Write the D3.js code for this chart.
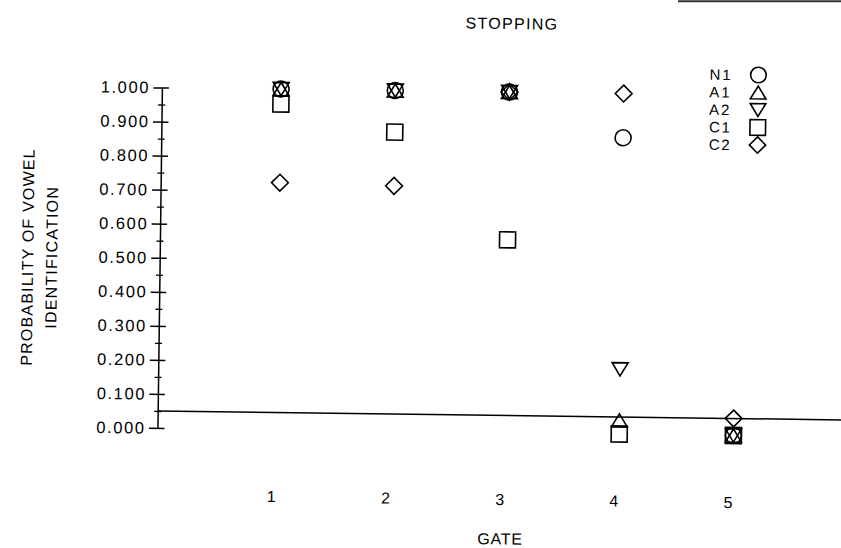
<!DOCTYPE html>
<html>
<head>
<meta charset="utf-8">
<script src="https://cdn.jsdelivr.net/npm/d3@7"></script>
<style>
  html, body { margin: 0; padding: 0; background: #fff; }
  svg { display: block; }
  text { font-family: "Liberation Sans", Arial, Helvetica, sans-serif; fill: #000; }
</style>
</head>
<body>
<svg id="chart" width="841" height="548"></svg>
<script>
// ---- data ----
const gates = [1, 2, 3, 4, 5];
const gateLabels = ["1", "2", "3", "4", "5"];
const seriesNames = ["N1", "A1", "A2", "C1", "C2"];
const seriesShapes = ["circle", "triangleUp", "triangleDown", "square", "diamond"];
const n1 = [1.0, 1.0, 1.0, 0.87, 0.0];
const a1 = [1.0, 1.0, 1.0, 0.04, 0.0];
const a2 = [1.0, 1.0, 1.0, 0.19, 0.0];
const c1 = [0.956, 0.878, 0.566, 0.0, 0.0];
const c2 = [0.725, 0.72, 1.0, 1.0, 0.05];
const yMajorTicks = [0, 0.1, 0.2, 0.3, 0.4, 0.5, 0.6, 0.7, 0.8, 0.9, 1.0];
const yMinorTicks = [0.05, 0.15, 0.25, 0.35, 0.45, 0.55, 0.65, 0.75, 0.85, 0.95];
const chanceLevel = 0.05;
const titleText = "STOPPING";
const xTitle = "GATE";
const yTitleLines = ["PROBABILITY OF VOWEL", "IDENTIFICATION"];

const seriesValues = [n1, a1, a2, c1, c2];

// ---- layout ----
const svg = d3.select("#chart");
// scanned original is slightly rotated
const g = svg.append("g").attr("transform", "rotate(0.75 420 274)");

const axisX = 159.5;
const y = d3.scaleLinear().domain([0, 1]).range([431.4, 90.9]);
const x = d3.scaleLinear().domain([1, 5]).range([278.7, 735.5]);

// marker shapes
function shapePath(type, r) {
  const p = d3.path();
  if (type === "circle") {
    p.moveTo(r, 0); p.arc(0, 0, r, 0, 2 * Math.PI); p.closePath();
  } else if (type === "square") {
    p.rect(-r, -r, 2 * r, 2 * r);
  } else if (type === "diamond") {
    const d = r * 1.05;
    p.moveTo(0, -d); p.lineTo(d, 0); p.lineTo(0, d); p.lineTo(-d, 0); p.closePath();
  } else if (type === "triangleUp") {
    const h = r * 0.82;
    p.moveTo(0, -h); p.lineTo(r, h); p.lineTo(-r, h); p.closePath();
  } else if (type === "triangleDown") {
    const h = r * 0.82;
    p.moveTo(-r, -h); p.lineTo(r, -h); p.lineTo(0, h); p.closePath();
  }
  return p.toString();
}
const R = 8;

// ---- y axis ----
const yAxis = d3.axisLeft(y)
  .tickValues(yMajorTicks)
  .tickFormat(d3.format(".3f"))
  .tickSizeInner(8.5)
  .tickSizeOuter(0)
  .tickPadding(5);
const ya = g.append("g").attr("transform", `translate(${axisX},0)`).call(yAxis);
ya.select(".domain").attr("stroke", "#000").attr("stroke-width", 1.5);
ya.selectAll(".tick line").attr("x1", 7).attr("stroke", "#000").attr("stroke-width", 1.5);
ya.selectAll(".tick text")
  .attr("font-size", 16.5)
  .attr("letter-spacing", "1.6px")
  .attr("dx", "1.6px")
  .attr("font-family", "Liberation Sans, Arial, sans-serif")
  .attr("fill", "#000");

const yMinor = d3.axisLeft(y)
  .tickValues(yMinorTicks)
  .tickFormat("")
  .tickSizeInner(3.5)
  .tickSizeOuter(0);
const ym = g.append("g").attr("transform", `translate(${axisX},0)`).call(yMinor);
ym.select(".domain").remove();
ym.selectAll(".tick line").attr("x1", 3.5).attr("stroke", "#000").attr("stroke-width", 1.3);

// ---- x axis labels (no line) ----
const xAxis = d3.axisBottom(x)
  .tickValues(gates)
  .tickFormat((d, i) => gateLabels[i])
  .tickSize(0)
  .tickPadding(0);
const xa = g.append("g").attr("transform", `translate(0,${y(0) + 67})`).call(xAxis);
xa.select(".domain").remove();
xa.selectAll(".tick text")
  .attr("font-size", 16)
  .attr("dx", "-5px")
  .attr("dy", "0.35em")
  .attr("font-family", "Liberation Sans, Arial, sans-serif")
  .attr("fill", "#000");

// ---- chance line ----
g.append("line")
  .attr("x1", axisX).attr("x2", 900)
  .attr("y1", y(chanceLevel)).attr("y2", y(chanceLevel))
  .attr("stroke", "#000").attr("stroke-width", 1.5);

// ---- points ----
seriesNames.forEach((name, si) => {
  g.append("g").attr("class", "series-" + name)
    .selectAll("path")
    .data(seriesValues[si].map((v, i) => ({ gate: gates[i], v })))
    .join("path")
    .attr("transform", d => `translate(${x(d.gate)},${y(d.v)})`)
    .attr("d", shapePath(seriesShapes[si], R))
    .attr("fill", "none")
    .attr("stroke", "#000")
    .attr("stroke-width", 1.6);
});

// ---- titles ----
g.append("text")
  .attr("x", 508.7).attr("y", 28)
  .attr("text-anchor", "middle")
  .attr("font-size", 16)
  .attr("letter-spacing", "1.3px")
  .text(titleText);

g.append("text")
  .attr("x", x(3) - 3.5).attr("y", y(0) + 112)
  .attr("text-anchor", "middle")
  .attr("font-size", 16)
  .attr("letter-spacing", "0.8px")
  .text(xTitle);

const yMid = (y(0) + y(1)) / 2 + 1;
yTitleLines.forEach((line, i) => {
  g.append("text")
    .attr("transform", `translate(${33 + i * 24},${yMid}) rotate(-90)`)
    .attr("text-anchor", "middle")
    .attr("font-size", 16)
    .attr("letter-spacing", "1.2px")
    .text(line);
});

// ---- legend ----
const legend = g.append("g").attr("transform", "translate(0,70.6)");
seriesNames.forEach((name, i) => {
  const row = legend.append("g").attr("transform", `translate(0,${i * 17.5})`);
  row.append("text")
    .attr("x", 707).attr("y", 5.5)
    .attr("font-size", 15)
    .attr("letter-spacing", "1.8px")
    .text(name);
  row.append("path")
    .attr("transform", "translate(755.8,0)")
    .attr("d", shapePath(seriesShapes[i], 7.8))
    .attr("fill", "none")
    .attr("stroke", "#000")
    .attr("stroke-width", 1.6);
});

// ---- scan edge at top right ----
svg.append("line")
  .attr("x1", 678).attr("x2", 841).attr("y1", 1.2).attr("y2", 1.2)
  .attr("stroke", "#333").attr("stroke-width", 2);
</script>
</body>
</html>
